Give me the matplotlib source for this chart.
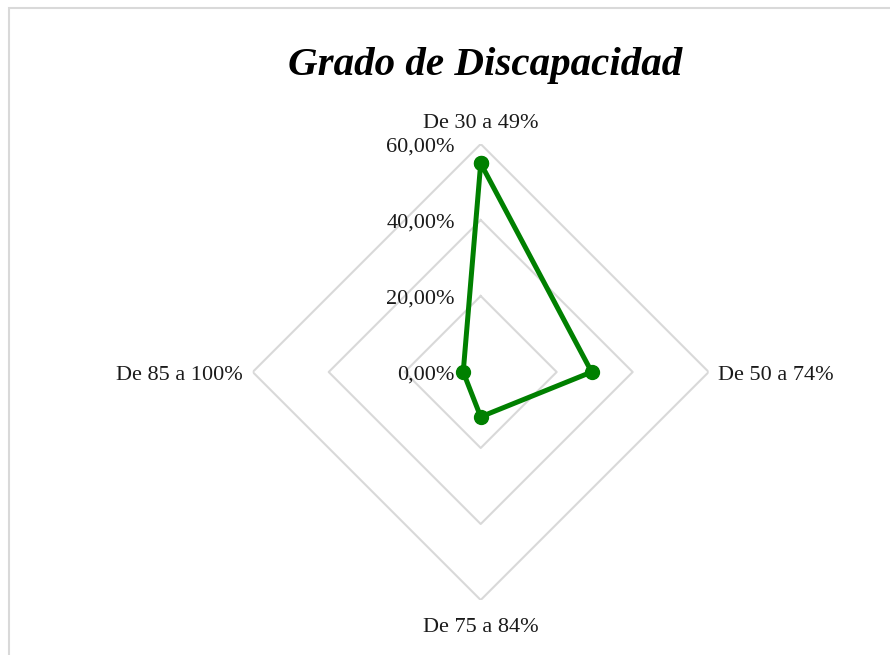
import numpy as np
import matplotlib
matplotlib.use("Agg")
import matplotlib.pyplot as plt
from matplotlib.patches import Rectangle

title = "Grado de Discapacidad"
categories = ["De 30 a 49%", "De 50 a 74%", "De 75 a 84%", "De 85 a 100%"]
values = [54.9, 29.2, 11.8, 4.6]
ring_values = [0, 20, 40, 60]
ring_labels = ["0,00%", "20,00%", "40,00%", "60,00%"]

W, H = 890, 655
fig = plt.figure(figsize=(W / 100, H / 100), dpi=100)
fig.patch.set_facecolor("white")

# light frame around the chart area
fig.add_artist(Rectangle((8.5 / W, -0.1), 1.2, 1 - 7.5 / H + 0.1,
                         transform=fig.transFigure, fill=False,
                         edgecolor="#d9d9d9", linewidth=1.5))

cx, cy, R = 480.7, 372.0, 228.0
ax = fig.add_axes([(cx - R) / W, (H - cy - R) / H, 2 * R / W, 2 * R / H],
                  projection="polar")
ax.set_theta_offset(np.pi / 2)
ax.set_theta_direction(-1)
ax.set_ylim(0, 60)
ax.grid(False)
ax.spines["polar"].set_visible(False)
ax.set_xticks([])
ax.set_yticks([])
ax.patch.set_alpha(0)

n = len(categories)
angles = np.arange(n) * 2 * np.pi / n
closed = np.append(angles, angles[0])

# diamond grid rings
for r in ring_values[1:]:
    ax.plot(closed, [r] * (n + 1), color="#d9d9d9", linewidth=1.5, zorder=1)

serif = ["Liberation Serif", "DejaVu Serif"]
fs = 16
dy = 3  # small downward nudge for label baselines

# data polygon
vals = np.append(values, values[0])
ax.plot(closed, vals, color="#008000", linewidth=3.6, marker="o",
        markersize=10, zorder=3, solid_joinstyle="round")

# value axis labels
for r, lab in zip(ring_values, ring_labels):
    x_px = cx - 26
    y_px = cy - r * R / 60 + dy
    fig.text(x_px / W, 1 - y_px / H, lab, ha="right", va="center",
             fontsize=fs, family=serif, color="#1a1a1a")

# category labels
fig.text(481 / W, 1 - (120 + dy) / H, categories[0], ha="center", va="center",
         fontsize=fs, family=serif, color="#1a1a1a")
fig.text(718 / W, 1 - (373 + dy) / H, categories[1], ha="left", va="center",
         fontsize=fs, family=serif, color="#1a1a1a")
fig.text(481 / W, 1 - (625 + dy) / H, categories[2], ha="center", va="center",
         fontsize=fs, family=serif, color="#1a1a1a")
fig.text(243 / W, 1 - (373 + dy) / H, categories[3], ha="right", va="center",
         fontsize=fs, family=serif, color="#1a1a1a")

fig.text(485 / W, 1 - 65 / H, title, ha="center", va="center",
         fontsize=29.5, family=serif, fontweight="bold", fontstyle="italic",
         color="black")

fig.savefig("out.png", dpi=100, facecolor="white")
